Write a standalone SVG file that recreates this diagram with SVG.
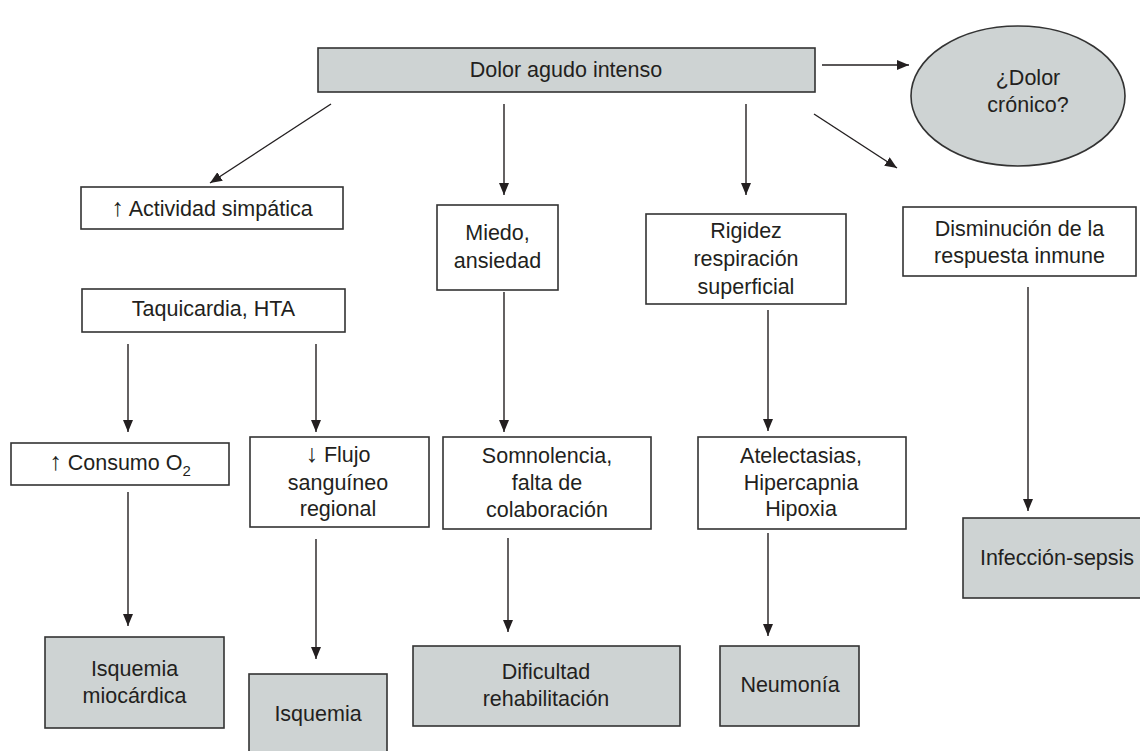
<svg xmlns="http://www.w3.org/2000/svg" width="1140" height="751" viewBox="0 0 1140 751">
<style>
  .box { fill: #ffffff; stroke: #333333; stroke-width: 1.6; }
  .term { fill: #ced3d3; stroke: #333333; stroke-width: 1.6; }
  text { font-family: "Liberation Sans", Arial, sans-serif; font-size: 21.5px; fill: #231f20; text-anchor: middle; }
  .ar { font-size: 25px; }
  .conn line { stroke: #231f20; stroke-width: 1.4; marker-end: url(#ah); }
</style>
<defs>
  <marker id="ah" markerUnits="userSpaceOnUse" markerWidth="12" markerHeight="10" refX="12" refY="5" orient="auto">
    <path d="M0,0 L12,5 L0,10 z" fill="#231f20"/>
  </marker>
</defs>
<rect width="1140" height="751" fill="#ffffff"/>

<g id="connectors" class="conn">
  <line x1="822" y1="65" x2="909" y2="65"/>
  <line x1="331" y1="104" x2="210" y2="183"/>
  <line x1="504" y1="104" x2="504" y2="195"/>
  <line x1="746" y1="104" x2="746" y2="195"/>
  <line x1="814" y1="114" x2="897" y2="168"/>
  <line x1="128" y1="344" x2="128" y2="432"/>
  <line x1="316" y1="344" x2="316" y2="432"/>
  <line x1="504" y1="292" x2="504" y2="432"/>
  <line x1="768" y1="310" x2="768" y2="431"/>
  <line x1="1028" y1="287" x2="1028" y2="511"/>
  <line x1="128" y1="492" x2="128" y2="626"/>
  <line x1="316" y1="539" x2="316" y2="659"/>
  <line x1="508" y1="538" x2="508" y2="632"/>
  <line x1="768" y1="533" x2="768" y2="636"/>
</g>

<g id="dolor-agudo">
  <rect class="term" x="318" y="48" width="497" height="44"/>
  <text x="566" y="76.5">Dolor agudo intenso</text>
</g>

<g id="dolor-cronico">
  <ellipse class="term" cx="1018" cy="96" rx="107" ry="70"/>
  <text x="1028" y="84.5">¿Dolor</text>
  <text x="1028" y="111.5">crónico?</text>
</g>

<g id="actividad">
  <rect class="box" x="81" y="187" width="262" height="42"/>
  <text x="212" y="215.5"><tspan class="ar">↑</tspan> Actividad simpática</text>
</g>

<g id="miedo">
  <rect class="box" x="437" y="205" width="121" height="85"/>
  <text x="497.5" y="239.5">Miedo,</text>
  <text x="497.5" y="267.5">ansiedad</text>
</g>

<g id="rigidez">
  <rect class="box" x="646" y="214" width="200" height="90"/>
  <text x="746" y="237.5">Rigidez</text>
  <text x="746" y="265.5">respiración</text>
  <text x="746" y="293.5">superficial</text>
</g>

<g id="disminucion">
  <rect class="box" x="903" y="207" width="233" height="69"/>
  <text x="1019.5" y="235.5">Disminución de la</text>
  <text x="1019.5" y="262.5">respuesta inmune</text>
</g>

<g id="taquicardia">
  <rect class="box" x="82" y="289" width="263" height="43"/>
  <text x="213.5" y="316">Taquicardia, HTA</text>
</g>

<g id="consumo">
  <rect class="box" x="11" y="443" width="218" height="42"/>
  <text x="120" y="469.5"><tspan class="ar">↑</tspan> Consumo O<tspan font-size="15" dy="6">2</tspan></text>
</g>

<g id="flujo">
  <rect class="box" x="250" y="437" width="179" height="90"/>
  <text x="338" y="461.5"><tspan class="ar">↓</tspan> Flujo</text>
  <text x="338" y="489.5">sanguíneo</text>
  <text x="338" y="515.5">regional</text>
</g>

<g id="somnolencia">
  <rect class="box" x="443" y="437" width="208" height="92"/>
  <text x="547" y="462.5">Somnolencia,</text>
  <text x="547" y="490">falta de</text>
  <text x="547" y="516.5">colaboración</text>
</g>

<g id="atelectasias">
  <rect class="box" x="698" y="437" width="208" height="92"/>
  <text x="801" y="462.5">Atelectasias,</text>
  <text x="801" y="489.5">Hipercapnia</text>
  <text x="801" y="515.5">Hipoxia</text>
</g>

<g id="isquemia-miocardica">
  <rect class="term" x="45" y="637" width="179" height="91"/>
  <text x="134.5" y="675.5">Isquemia</text>
  <text x="134.5" y="702.5">miocárdica</text>
</g>

<g id="isquemia">
  <rect class="term" x="249" y="674" width="138" height="90"/>
  <text x="318" y="720.5">Isquemia</text>
</g>

<g id="dificultad">
  <rect class="term" x="413" y="646" width="267" height="80"/>
  <text x="546" y="678.5">Dificultad</text>
  <text x="546" y="705.5">rehabilitación</text>
</g>

<g id="neumonia">
  <rect class="term" x="720" y="646" width="139" height="80"/>
  <text x="790" y="691.5">Neumonía</text>
</g>

<g id="infeccion">
  <rect class="term" x="963" y="518" width="190" height="80"/>
  <text x="1057" y="565">Infección-sepsis</text>
</g>
</svg>
